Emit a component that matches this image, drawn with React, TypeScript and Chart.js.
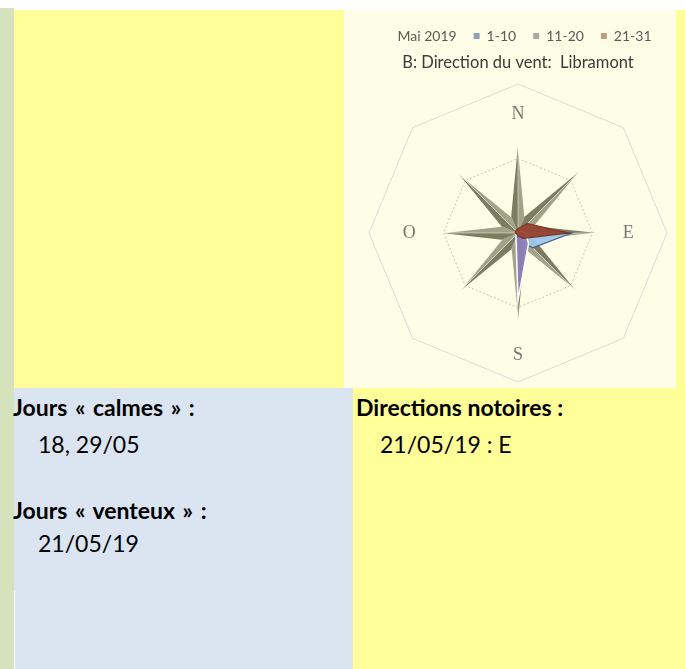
import React, { useEffect, useRef } from 'react';
import { Chart, registerables } from 'chart.js';

Chart.register(...registerables);

// ---- data ----
const DIRECTIONS = ['N', 'NE', 'E', 'SE', 'S', 'SO', 'O', 'NO'];
const DIRECTION_LABELS = ['N', '', 'E', '', 'S', '', 'O', ''];
const SERIES_NAMES = ['1-10', '11-20', '21-31'];
const DAYS_1_10 = [0.2, 0.3, 3.6, 1.4, 0.5, 0.1, 0.1, 0.1];
const DAYS_11_20 = [0.1, 0.2, 0.5, 1.0, 4.5, 0.2, 0.2, 0.1];
const DAYS_21_31 = [0.3, 0.9, 3.4, 0.5, 0.2, 0.1, 0.2, 0.2];
const LEGEND_PREFIX = 'Mai 2019';
const TITLE = 'B: Direction du vent:  Libramont';
const SCALE_MAX = 10;
const SCALE_STEP = 5;

// ---- decoration / style ----
const LEGEND_COLORS = ['#8FA1B6', '#A8A8A8', '#C59C80'];
const FILL_COLORS = ['rgba(160,198,234,0.95)', 'rgba(140,128,186,0.92)', 'rgba(150,68,48,0.95)'];
const BORDER_COLORS = ['#3F5F8E', '#FFFFFF', '#7A3422'];
const DRAW_ORDER = [2, 1, 0];
const STAR_RAYS = [0.59, 0.59, 0.53, 0.55, 0.59, 0.55, 0.51, 0.57];
const LABEL_RADII = [0.8, 0, 0.74, 0, 0.82, 0, 0.73, 0];

const compassPlugin = {
  id: 'compass',
  beforeDatasetsDraw(chart: any) {
    const s = chart.scales.r;
    const ctx = chart.ctx;
    const R = s.drawingArea;
    const cx = s.xCenter;
    const cy = s.yCenter;
    const n = DIRECTIONS.length;
    const half = Math.PI / n;
    ctx.save();
    for (let i = 0; i < n; i++) {
      const a = s.getIndexAngle(i) - Math.PI / 2;
      const tip = s.getPointPosition(i, R * STAR_RAYS[i]);
      const br = R * 0.12;
      const l = { x: cx + Math.cos(a - half) * br, y: cy + Math.sin(a - half) * br };
      const r = { x: cx + Math.cos(a + half) * br, y: cy + Math.sin(a + half) * br };
      ctx.beginPath();
      ctx.moveTo(cx, cy);
      ctx.lineTo(l.x, l.y);
      ctx.lineTo(tip.x, tip.y);
      ctx.closePath();
      ctx.fillStyle = '#7C7C61';
      ctx.fill();
      ctx.beginPath();
      ctx.moveTo(cx, cy);
      ctx.lineTo(tip.x, tip.y);
      ctx.lineTo(r.x, r.y);
      ctx.closePath();
      ctx.fillStyle = '#A2A288';
      ctx.fill();
      ctx.beginPath();
      ctx.moveTo(r.x, r.y);
      ctx.lineTo(tip.x, tip.y);
      ctx.strokeStyle = 'rgba(255,255,240,0.85)';
      ctx.lineWidth = 1.2;
      ctx.stroke();
      ctx.beginPath();
      ctx.moveTo(cx, cy);
      ctx.lineTo(tip.x, tip.y);
      ctx.strokeStyle = 'rgba(255,255,240,0.6)';
      ctx.lineWidth = 0.8;
      ctx.stroke();
    }
    ctx.restore();
  },
  afterDatasetsDraw(chart: any) {
    const s = chart.scales.r;
    const ctx = chart.ctx;
    const R = s.drawingArea;
    ctx.save();
    ctx.font = '18px "Liberation Serif", "DejaVu Serif", serif';
    ctx.fillStyle = '#767676';
    ctx.textAlign = 'center';
    ctx.textBaseline = 'middle';
    DIRECTION_LABELS.forEach((lab, i) => {
      if (!lab) return;
      const p = s.getPointPosition(i, R * LABEL_RADII[i]);
      ctx.fillText(lab, p.x, p.y);
    });
    ctx.restore();
  },
};

function WindRose() {
  const ref = useRef<HTMLCanvasElement | null>(null);
  useEffect(() => {
    if (!ref.current) return;
    const series = [DAYS_1_10, DAYS_11_20, DAYS_21_31];
    const chart = new Chart(ref.current, {
      type: 'radar',
      data: {
        labels: DIRECTIONS,
        datasets: series.map((d, i) => ({
          label: SERIES_NAMES[i],
          data: d,
          order: DRAW_ORDER[i],
          backgroundColor: FILL_COLORS[i],
          borderColor: BORDER_COLORS[i],
          borderWidth: i === 1 ? 1.5 : 1.2,
          pointRadius: 0,
          fill: true,
          tension: 0,
        })),
      },
      options: {
        animation: false,
        responsive: false,
        maintainAspectRatio: false,
        layout: { padding: { top: 2, left: 16, right: 0, bottom: 5 } },
        plugins: {
          tooltip: { enabled: false },
          legend: {
            position: 'top',
            weight: 1000,
            labels: {
              font: { family: 'Lato, "Open Sans", sans-serif', size: 14 },
              color: '#595959',
              boxWidth: 6,
              boxHeight: 6,
              padding: 17,
              generateLabels: () => [
                {
                  text: LEGEND_PREFIX,
                  fillStyle: 'rgba(0,0,0,0)',
                  strokeStyle: 'rgba(0,0,0,0)',
                  lineWidth: 0,
                  hidden: false,
                  fontColor: '#595959',
                },
                ...SERIES_NAMES.map((name, i) => ({
                  text: name,
                  fillStyle: LEGEND_COLORS[i],
                  strokeStyle: LEGEND_COLORS[i],
                  lineWidth: 0,
                  hidden: false,
                  datasetIndex: i,
                  fontColor: '#595959',
                })),
              ],
            },
          },
          title: {
            display: true,
            weight: 500,
            text: TITLE,
            color: '#3A3A3A',
            font: { family: 'Lato, "Open Sans", sans-serif', size: 16.5, weight: 'normal' },
            padding: { top: 0, bottom: 11 },
          },
        },
        scales: {
          r: {
            min: 0,
            max: SCALE_MAX,
            ticks: { display: false, stepSize: SCALE_STEP },
            angleLines: { display: false },
            pointLabels: { display: false },
            grid: {
              color: (c: any) => (c.index === 1 ? '#C4C4C4' : '#DADADA'),
              lineWidth: 1,
            },
            border: {
              dash: (c: any) => (c.index === 1 ? [2, 2] : []),
            },
          },
        },
      },
      plugins: [compassPlugin],
    } as any);
    return () => chart.destroy();
  }, []);
  return <canvas ref={ref} width={332} height={378} style={{ position: 'absolute', left: 344, top: 10, width: 332, height: 378 }} />;
}

const FONT = 'Lato, "Open Sans", sans-serif';

function Txt({ left, top, bold, spacing, children }: any) {
  return (
    <div
      style={{
        position: 'absolute',
        left,
        top,
        fontFamily: FONT,
        fontSize: 23,
        lineHeight: '28px',
        fontWeight: bold ? 700 : 400,
        wordSpacing: spacing || 0,
        color: '#000',
        whiteSpace: 'nowrap',
      }}
    >
      {children}
    </div>
  );
}

export default function App() {
  return (
    <div style={{ position: 'fixed', left: 0, top: 0, width: 685, height: 669, background: '#FFFFFF', overflow: 'hidden' }}>
      <div style={{ position: 'absolute', left: 0, top: 8, width: 14, height: 661, background: '#D6E2BC' }} />
      <div style={{ position: 'absolute', left: 14, top: 10, width: 671, height: 378, background: '#FFFF99' }} />
      <div style={{ position: 'absolute', left: 344, top: 10, width: 332, height: 378, background: '#FEFEE7' }} />
      <div style={{ position: 'absolute', left: 14, top: 388, width: 339, height: 281, background: '#DBE5F1' }} />
      <div style={{ position: 'absolute', left: 14, top: 591, width: 1, height: 78, background: '#FFFFFF' }} />
      <div style={{ position: 'absolute', left: 353, top: 388, width: 332, height: 281, background: '#FFFF99' }} />
      <WindRose />
      <Txt left={13} top={393} bold spacing={2}>Jours « calmes » :</Txt>
      <Txt left={38} top={430}>18, 29/05</Txt>
      <Txt left={13} top={496} bold spacing={2}>Jours « venteux » :</Txt>
      <Txt left={38} top={529}>21/05/19</Txt>
      <Txt left={356} top={393} bold>Directions notoires :</Txt>
      <Txt left={380} top={430}>21/05/19 : E</Txt>
    </div>
  );
}
